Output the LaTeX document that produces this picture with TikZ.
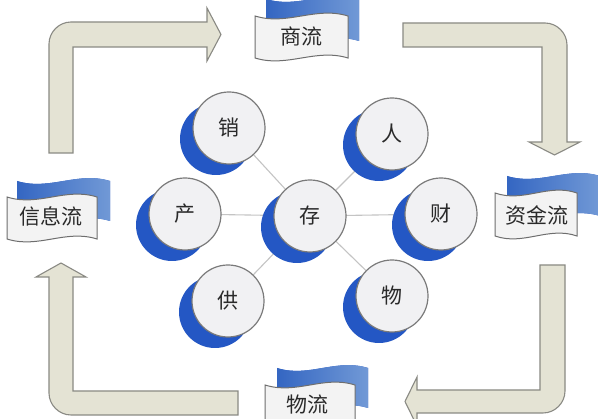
\documentclass[tikz,border=0pt]{standalone}
\usepackage{fontspec}
\newfontfamily\cjk{Noto Sans CJK SC}
\usetikzlibrary{backgrounds,calc}
\definecolor{arrowfill}{HTML}{E4E3D4}
\definecolor{arrowline}{HTML}{8A8A84}
\definecolor{ballfill}{HTML}{F1F1F3}
\definecolor{ballline}{HTML}{7A7A7A}
\definecolor{shadowblue}{HTML}{2457C4}
\definecolor{flagblueA}{HTML}{3466C2}
\definecolor{flagblueB}{HTML}{7199D6}
\definecolor{flagfill}{HTML}{F3F3F3}
\definecolor{flagline}{HTML}{6E6E6E}
\definecolor{txt}{HTML}{2A2A2A}
\definecolor{linkc}{HTML}{C4C4C4}
\newcommand\flagpath[5]{%
 (#1,#3) .. controls ({#1+0.35*(#2-#1)},{#3+#5}) and ({#1+0.65*(#2-#1)},{#3-#5}) .. (#2,#3)
 -- (#2,{#3+#4}) .. controls ({#1+0.65*(#2-#1)},{#3+#4-#5}) and ({#1+0.35*(#2-#1)},{#3+#4+#5}) .. (#1,{#3+#4}) -- cycle}
\begin{document}
\begin{tikzpicture}[x=1pt,y=-1pt,
  arrowshape/.style={fill=arrowfill,draw=arrowline,line width=1.1pt,line join=miter},
  ball/.style={circle,fill=ballfill,draw=ballline,line width=1.2pt,minimum size=72pt,inner sep=0pt,
    text=txt,font=\cjk\fontsize{21pt}{21pt}\selectfont},
  shade/.style={fill=shadowblue},
  link/.style={draw=linkc,line width=1.1pt},
  flagback/.style={left color=flagblueA,right color=flagblueB},
  flagfront/.style={fill=flagfill,draw=flagline,line width=1pt},
  flagtext/.style={text=txt,font=\cjk\fontsize{21pt}{21pt}\selectfont,inner sep=0pt}]
\useasboundingbox (0,0) rectangle (598,419);
\clip (0,0) rectangle (598,419);

% big bent arrows
\draw[arrowshape] (49,153) -- (49,44) .. controls (49,32) and (59,22) .. (71,22) -- (207,22) -- (207,8)
  -- (221,34.5) -- (207,61) -- (207,47) -- (73,47) -- (73,153) -- cycle;
\draw[arrowshape] (403,23) -- (545,23) .. controls (557,23) and (567,33) .. (567,45) -- (567,142)
  -- (580,142) -- (554.5,155) -- (529,142) -- (542,142) -- (542,47) -- (403,47) -- cycle;
\draw[arrowshape] (540,265) -- (565,265) -- (565,391) .. controls (565,403) and (555,413) .. (543,413)
  -- (417,413) -- (417,426) -- (405,401.5) -- (417,377) -- (417,390) -- (540,390) -- cycle;
\draw[arrowshape] (49,277) -- (36,277) -- (61,263) -- (86,277) -- (73,277) -- (73,391) -- (238,391)
  -- (238,415) -- (71,415) .. controls (59,415) and (49,405) .. (49,393) -- cycle;

% banners
\shade[flagback] \flagpath{266}{359}{-1}{42}{10};
\draw[flagfront] \flagpath{255}{348}{16}{42}{10};
\node[flagtext] (shang) at (301,36) {商流};

\shade[flagback] \flagpath{17}{110}{181}{40}{10};
\draw[flagfront] \flagpath{7}{97}{197}{42}{10};
\node[flagtext] (xinxi) at (51,216) {信息流};

\shade[flagback] \flagpath{507}{600}{176}{40}{10};
\draw[flagfront] \flagpath{495}{577}{193}{43}{10};
\node[flagtext] (zijin) at (537,215) {资金流};

\shade[flagback] \flagpath{277}{368}{368}{40}{10};
\draw[flagfront] \flagpath{265}{355}{385}{42}{10};
\node[flagtext] (wuliu) at (307,405) {物流};

% circles
\node[ball] (xiao) at (229,128) {销};
\node[ball] (ren) at (392,134) {人};
\node[ball] (chan) at (185,214) {产};
\node[ball] (cun) at (310,216) {存};
\node[ball] (cai) at (441,214) {财};
\node[ball] (gong) at (228,301) {供};
\node[ball] (wu) at (392,296) {物};

\begin{pgfonlayer}{background}
\fill[white] (0,0) rectangle (598,419);
\foreach \n in {xiao,ren,chan,cai,gong,wu}{\draw[link] (cun.center) -- (\n.center);}
\foreach \n in {xiao,ren,chan,cun,cai,gong,wu}{\fill[shade] ($(\n)+(-13,11)$) circle[radius=36pt];}
\end{pgfonlayer}
\end{tikzpicture}
\end{document}
